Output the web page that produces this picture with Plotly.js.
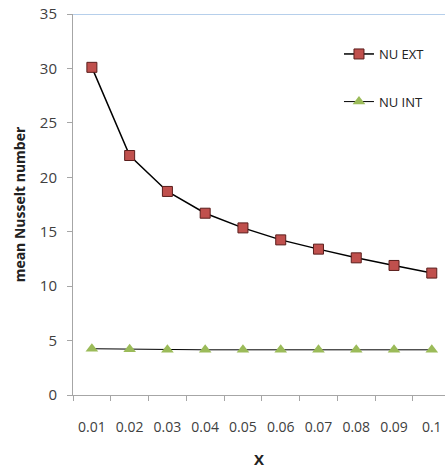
<!DOCTYPE html>
<html>
<head>
<meta charset="utf-8">
<script src="https://cdn.plot.ly/plotly-3.0.1.min.js"></script>
<style>html,body{margin:0;padding:0;background:#fff;}#chart{width:445px;height:469px;}</style>
</head>
<body>
<div id="chart"></div>
<script>
const categories = ["0.01","0.02","0.03","0.04","0.05","0.06","0.07","0.08","0.09","0.1"];
const nuExt = [30.1, 22.0, 18.7, 16.7, 15.35, 14.25, 13.4, 12.6, 11.9, 11.2];
const nuInt = [4.25, 4.2, 4.15, 4.15, 4.15, 4.15, 4.15, 4.15, 4.15, 4.15];
const yTicks = [0, 5, 10, 15, 20, 25, 30, 35];

const traces = [
  {
    x: categories, y: nuExt, name: "NU EXT", type: "scatter", mode: "lines+markers",
    line: {color: "#000000", width: 1.5},
    marker: {symbol: "square", size: 10, color: "#c0504d", line: {color: "#5a1e1c", width: 1}},
    legend: "legend"
  },
  {
    x: categories, y: nuInt, name: "NU INT", type: "scatter", mode: "lines+markers",
    line: {color: "#000000", width: 1},
    marker: {symbol: "triangle-up", size: 11, color: "#9bbb59", line: {width: 0}},
    legend: "legend2"
  }
];

const fontFam = "Open Sans, Liberation Sans, sans-serif";
const layout = {
  width: 445, height: 469,
  margin: {l: 73, r: 0, t: 14, b: 74},
  paper_bgcolor: "#ffffff", plot_bgcolor: "#ffffff",
  font: {family: fontFam, color: "#404040", size: 13},
  xaxis: {
    type: "category", range: [-0.5, 9.35],
    showgrid: false, zeroline: false,
    showline: true, linecolor: "#a6a6a6", linewidth: 1,
    ticks: "outside", ticklen: 5, tickcolor: "#a6a6a6", tickson: "boundaries",
    tickfont: {size: 14, color: "#404040"},
    ticklabelstandoff: 19,
    title: {text: "<b>X</b>", font: {size: 15, color: "#222222"}, standoff: 20}
  },
  yaxis: {
    range: [0, 35], tickvals: yTicks,
    showgrid: false, zeroline: false,
    showline: true, linecolor: "#a6a6a6", linewidth: 1,
    ticks: "outside", ticklen: 5, tickcolor: "#a6a6a6",
    tickfont: {size: 15, color: "#404040"},
    ticklabelstandoff: 7,
    title: {text: "<b>mean Nusselt number</b>", font: {size: 14, color: "#222222"}, standoff: 10}
  },
  shapes: [
    {type: "line", xref: "paper", yref: "y", x0: 0, x1: 1, y0: 35, y1: 35,
     line: {color: "#6f9fd8", width: 1.2}}
  ],
  showlegend: true,
  legend: {x: 0.715, y: 0.895, xanchor: "left", yanchor: "middle", bgcolor: "rgba(0,0,0,0)",
           font: {size: 13, color: "#222222"}},
  legend2: {x: 0.715, y: 0.77, xanchor: "left", yanchor: "middle", bgcolor: "rgba(0,0,0,0)",
           font: {size: 13, color: "#222222"}}
};

Plotly.newPlot("chart", traces, layout, {displayModeBar: false, staticPlot: true});
</script>
</body>
</html>
